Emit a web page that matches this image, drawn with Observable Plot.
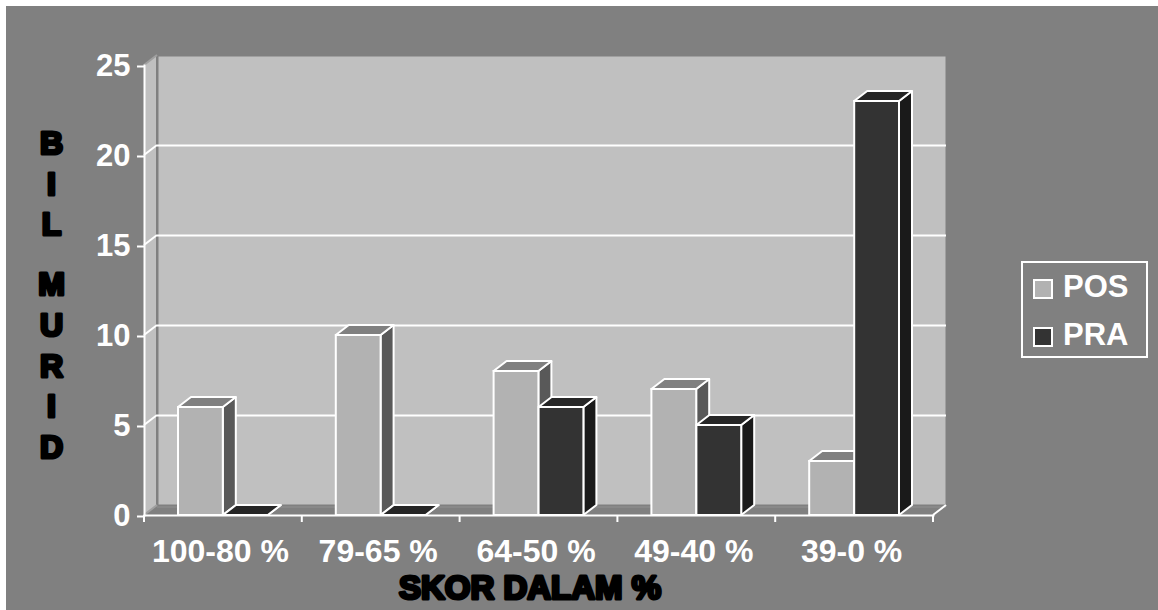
<!DOCTYPE html>
<html><head><meta charset="utf-8">
<script src="https://cdn.jsdelivr.net/npm/d3@7"></script>
<script src="https://cdn.jsdelivr.net/npm/@observablehq/plot@0.6"></script>
<style>
html,body{margin:0;padding:0;background:#fff;overflow:hidden}
#page{position:absolute;left:6px;top:6px;right:0;bottom:0;background:#808080}
#chart{position:absolute;left:0;top:0;width:1158px;height:610px}
#chart svg{display:block;background:transparent}
#legend{position:absolute;left:1021px;top:261px;width:123px;height:93px;border:2px solid #fff;font:bold 31px "Liberation Sans",Arial,sans-serif;color:#fff}
#legend div{position:absolute;left:40px;line-height:34px}
#legend i{position:absolute;left:10px;width:16px;height:16px;border:2px solid #fff}
</style></head><body>
<div id="page"></div><div id="chart"></div>
<div id="legend"></div>
<script>
const categories = ["100-80 %","79-65 %","64-50 %","49-40 %","39-0 %"];
const pos = [6,10,8,7,3];
const pra = [0,0,6,5,23];
const yTicks = [0,5,10,15,20,25];
const gridValues = [5,10,15,20];
const seriesNames = ["POS","PRA"];
const yTitleTop = "B\nI\nL";
const yTitleBottom = "M\nU\nR\nI\nD";
const xTitle = "SKOR DALAM %";

const colors = {
  POS:{front:"#b2b2b2",side:"#595959",top:"#808080"},
  PRA:{front:"#333333",side:"#1a1a1a",top:"#262626"}
};
const depth = {dx:13,dy:-10};
const inset = {near:34,far:79};
const font = '"Liberation Sans",Arial,sans-serif';

const rows = s => categories.map((c,i)=>({cat:c,val:(s==="POS"?pos:pra)[i],s}));
const posRows = rows("POS"), praRows = rows("PRA");

function poly(g,pts,fill,stroke,sw){
  g.append("polygon").attr("points",pts.map(p=>p.join(",")).join(" "))
   .attr("fill",fill).attr("stroke",stroke||"none").attr("stroke-width",sw||0).attr("stroke-linejoin","round");
}
function line(g,a,b,stroke,sw){
  g.append("line").attr("x1",a[0]).attr("y1",a[1]).attr("x2",b[0]).attr("y2",b[1])
   .attr("stroke",stroke).attr("stroke-width",sw);
}
// left side wall, floor, diagonals and band-edge ticks
const room = (index,{x,y}) => {
  const g = d3.create("svg:g");
  const {dx,dy} = depth;
  const x0 = x(categories[0]), x1 = x(categories[categories.length-1])+x.bandwidth();
  const y0 = y(0), yT = y(25);
  poly(g,[[x0,y0],[x0+dx,y0+dy],[x0+dx,yT+dy],[x0,yT]],"#c0c0c0");
  poly(g,[[x0,y0],[x0+dx,y0+dy],[x1+dx,y0+dy],[x1,y0]],"#808080");
  line(g,[x0+dx,y0+dy+2],[x1+dx,y0+dy+2],"#929292",1);
  line(g,[x0+dx,yT+dy],[x0+dx,y0+dy],"#808080",2);
  for (const v of gridValues) line(g,[x0,y(v)],[x0+dx,y(v)+dy],"#fff",2);
  line(g,[x0,yT],[x0+dx,yT+dy],"#a0a0a0",2);
  line(g,[x0,y0],[x0+dx,y0+dy],"#a0a0a0",2);
  line(g,[x1,y0],[x1+dx,y0+dy],"#fff",2);
  for (const c of categories) line(g,[x(c),y0],[x(c),y0+7],"#fff",2);
  line(g,[x1,y0],[x1,y0+7],"#fff",2);
  return g.node();
};
// side and top faces of each bar
const faces = (data,ins) => (index,{x,y}) => {
  const g = d3.create("svg:g");
  const {dx,dy} = depth;
  for (const d of data){
    const c = colors[d.s];
    const l = x(d.cat)+ins[0], r = x(d.cat)+x.bandwidth()-ins[1];
    const t = y(d.val), b = y(0);
    poly(g,[[r,t],[r+dx,t+dy],[r+dx,b+dy],[r,b]],c.side,"#fff",2);
    poly(g,[[l,t],[r,t],[r+dx,t+dy],[l+dx,t+dy]],c.top,"#fff",2);
  }
  return g.node();
};

const titleStyle = {fontWeight:"bold",fontFamily:font,fill:"#000",stroke:"#000"};
const chart = Plot.plot({
  width:1158,height:610,
  marginLeft:144,marginRight:225,marginTop:65,marginBottom:95,
  style:{background:"transparent",overflow:"visible"},
  x:{type:"band",domain:categories,padding:0,round:false,label:null},
  y:{domain:[0,25],label:null},
  marks:[
    Plot.frame({fill:"#c0c0c0",stroke:"#808080",strokeWidth:2,dx:depth.dx,dy:depth.dy}),
    room,
    Plot.ruleY(gridValues,{stroke:"#fff",strokeWidth:2,dx:depth.dx,dy:depth.dy}),
    faces(posRows,[inset.near,inset.far]),
    faces(praRows,[inset.far,inset.near]),
    Plot.barY(posRows,{x:"cat",y:"val",insetLeft:inset.near,insetRight:inset.far,fill:colors.POS.front,stroke:"#fff",strokeWidth:2}),
    Plot.barY(praRows,{x:"cat",y:"val",insetLeft:inset.far,insetRight:inset.near,fill:colors.PRA.front,stroke:"#fff",strokeWidth:2}),
    Plot.frame({anchor:"left",stroke:"#fff",strokeWidth:2}),
    Plot.frame({anchor:"bottom",stroke:"#fff",strokeWidth:2}),
    Plot.axisY({ticks:yTicks,tickSize:7,tickPadding:7,strokeWidth:2,color:"#fff",fontSize:31,fontWeight:"bold",fontFamily:font,label:null,fontVariant:"normal",dy:1}),
    Plot.axisX({tickSize:0,tickPadding:24,dx:-3,color:"#fff",fontSize:32,fontWeight:"bold",fontFamily:font,label:null,fontVariant:"normal",lineWidth:Infinity}),
    Plot.text([xTitle],{text:d=>d,frameAnchor:"bottom",dx:-9,dy:83,fontSize:33,strokeWidth:3.2,...titleStyle}),
    Plot.text([yTitleTop],{text:d=>d,frameAnchor:"left",dx:-93,dy:-109,textAnchor:"middle",lineHeight:1.27,fontSize:32,strokeWidth:3.2,...titleStyle}),
    Plot.text([yTitleBottom],{text:d=>d,frameAnchor:"left",dx:-93,dy:73,textAnchor:"middle",lineHeight:1.27,fontSize:32,strokeWidth:3.2,...titleStyle})
  ]
});
document.getElementById("chart").append(chart);

const legend = document.getElementById("legend");
seriesNames.forEach((n,i)=>{
  const sw = document.createElement("i");
  sw.style.top = (16+48*i)+"px"; sw.style.background = colors[n].front;
  const t = document.createElement("div");
  t.style.top = (7+48*i)+"px"; t.textContent = n;
  legend.append(sw,t);
});
</script></body></html>
